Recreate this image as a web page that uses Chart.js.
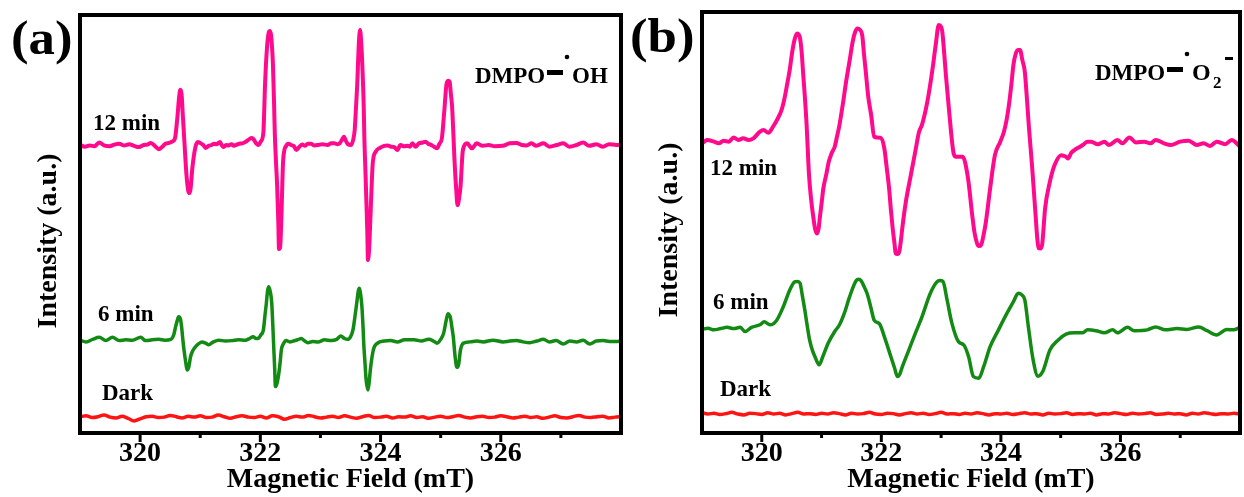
<!DOCTYPE html>
<html>
<head>
<meta charset="utf-8">
<script src="https://cdn.jsdelivr.net/npm/chart.js@4.4.1/dist/chart.umd.min.js"></script>
<style>
  body { margin: 0; background: #fff; width: 1244px; height: 497px; overflow: hidden; position: relative; }
  canvas { position: absolute; top: 0; }
  #graphA { left: 0; }
  #graphB { left: 632px; }
</style>
</head>
<body>
<canvas id="graphA" width="632" height="497"></canvas>
<canvas id="graphB" width="612" height="497"></canvas>
<script>
// ---- data (field in mT, intensity in a.u., traces stacked) ----
const traceLabels = ["12 min", "6 min", "Dark"];
const tickLabels = [320, 322, 324, 326];
const minorTicks = [321, 323, 325, 327];

// (a) DMPO-OH, 12 min
const fieldA12 = [
  319.00, 319.08, 319.16, 319.24, 319.32, 319.40, 319.49, 319.57, 319.65, 319.73,
  319.82, 319.90, 319.98, 320.06, 320.12, 320.18, 320.25, 320.31, 320.37, 320.42,
  320.48, 320.53, 320.58, 320.62, 320.65, 320.67, 320.69, 320.71, 320.74, 320.77,
  320.80, 320.82, 320.84, 320.87, 320.92, 320.96, 321.00, 321.05, 321.09, 321.14,
  321.19, 321.23, 321.27, 321.33, 321.36, 321.39, 321.43, 321.47, 321.52, 321.56,
  321.61, 321.65, 321.70, 321.75, 321.80, 321.85, 321.88, 321.93, 321.97, 322.01,
  322.05, 322.08, 322.11, 322.14, 322.16, 322.18, 322.21, 322.23, 322.24, 322.26,
  322.28, 322.30, 322.31, 322.33, 322.35, 322.38, 322.43, 322.47, 322.51, 322.56,
  322.60, 322.65, 322.70, 322.74, 322.79, 322.84, 322.90, 322.96, 323.03, 323.12,
  323.18, 323.23, 323.28, 323.32, 323.36, 323.39, 323.42, 323.45, 323.51, 323.55,
  323.57, 323.59, 323.61, 323.64, 323.66, 323.68, 323.70, 323.72, 323.73, 323.75,
  323.76, 323.78, 323.79, 323.81, 323.83, 323.85, 323.87, 323.92, 323.99, 324.06,
  324.12, 324.17, 324.23, 324.28, 324.33, 324.39, 324.45, 324.49, 324.53, 324.58,
  324.64, 324.70, 324.75, 324.79, 324.83, 324.89, 324.94, 324.98, 325.02, 325.06,
  325.10, 325.13, 325.15, 325.17, 325.19, 325.21, 325.23, 325.26, 325.28, 325.31,
  325.33, 325.37, 325.44, 325.52, 325.60, 325.70, 325.80, 325.90, 326.03, 326.15,
  326.26, 326.35, 326.43, 326.51, 326.59, 326.71, 326.81, 326.93, 327.04, 327.14,
  327.26, 327.37, 327.47, 327.59, 327.70, 327.80, 327.92, 328.00
];
const intA12 = [
  68.9, 68.5, 68.8, 68.6, 69.5, 68.8, 68.6, 69.0, 69.2, 68.8,
  69.1, 68.7, 68.4, 68.9, 69.0, 69.4, 68.6, 67.9, 68.5, 69.2,
  69.4, 69.7, 70.5, 75.5, 80.5, 82.1, 81.0, 76.1, 68.9, 62.0,
  58.0, 57.4, 58.5, 63.5, 68.4, 69.6, 69.4, 68.9, 68.2, 68.7,
  68.9, 69.2, 69.1, 69.6, 68.8, 68.4, 68.9, 68.8, 69.1, 68.7,
  69.0, 69.2, 69.3, 69.6, 70.1, 70.6, 70.4, 69.3, 68.9, 69.8,
  71.8, 84.0, 92.0, 95.8, 96.2, 95.0, 88.0, 78.0, 72.0, 65.0,
  59.0, 50.0, 44.0, 44.5, 51.5, 65.3, 68.7, 69.2, 68.9, 68.6,
  67.7, 68.5, 69.0, 68.7, 69.2, 69.2, 68.8, 68.9, 69.1, 68.9,
  69.3, 69.3, 69.1, 69.3, 70.2, 70.9, 70.0, 69.2, 68.9, 70.5,
  72.5, 77.5, 82.8, 93.5, 96.4, 93.0, 86.8, 78.0, 70.9, 62.0,
  57.3, 48.0, 41.4, 44.0, 51.0, 58.5, 64.5, 67.3, 68.2, 68.7,
  68.8, 68.5, 68.4, 67.7, 68.9, 68.6, 68.7, 68.5, 69.3, 68.5,
  69.3, 69.5, 69.7, 69.2, 69.0, 68.5, 68.1, 69.2, 70.5, 77.0,
  83.7, 84.3, 84.0, 81.0, 78.1, 72.0, 65.3, 58.0, 54.5, 56.5,
  58.9, 67.7, 69.3, 68.1, 69.3, 68.7, 68.9, 68.6, 68.7, 69.3,
  69.4, 68.9, 68.8, 69.3, 68.7, 69.3, 68.5, 68.9, 69.3, 68.5,
  68.9, 69.5, 68.7, 69.1, 68.5, 69.1, 68.9, 69.0
];

// (a) DMPO-OH, 6 min
const fieldA6 = [
  319.00, 319.10, 319.21, 319.32, 319.43, 319.54, 319.65, 319.76, 319.87, 320.01,
  320.09, 320.20, 320.31, 320.41, 320.51, 320.56, 320.59, 320.62, 320.64, 320.67,
  320.69, 320.71, 320.73, 320.76, 320.78, 320.81, 320.84, 320.88, 320.92, 320.97,
  321.03, 321.09, 321.14, 321.22, 321.31, 321.42, 321.53, 321.64, 321.75, 321.82,
  321.88, 321.93, 321.97, 322.01, 322.05, 322.08, 322.10, 322.12, 322.14, 322.17,
  322.19, 322.21, 322.22, 322.24, 322.25, 322.27, 322.30, 322.33, 322.35, 322.39,
  322.43, 322.49, 322.55, 322.62, 322.68, 322.74, 322.79, 322.87, 322.96, 323.07,
  323.18, 323.27, 323.34, 323.40, 323.45, 323.50, 323.54, 323.58, 323.61, 323.63,
  323.65, 323.67, 323.69, 323.71, 323.72, 323.74, 323.76, 323.79, 323.81, 323.83,
  323.88, 323.95, 324.06, 324.17, 324.28, 324.40, 324.56, 324.68, 324.80, 324.88,
  324.94, 325.00, 325.05, 325.09, 325.12, 325.14, 325.16, 325.19, 325.21, 325.24,
  325.27, 325.30, 325.33, 325.38, 325.49, 325.60, 325.71, 325.87, 326.04, 326.15,
  326.26, 326.37, 326.48, 326.60, 326.71, 326.81, 326.92, 327.04, 327.15, 327.26,
  327.37, 327.48, 327.59, 327.70, 327.81, 327.92, 328.00
];
const intA6 = [
  22.2, 21.8, 22.4, 22.9, 22.1, 22.9, 22.1, 22.3, 22.2, 22.9,
  22.1, 22.3, 22.4, 22.2, 22.4, 23.5, 25.4, 27.0, 27.8, 27.3,
  25.4, 22.5, 19.9, 16.8, 15.1, 15.8, 18.3, 19.8, 20.6, 21.3,
  21.8, 21.5, 21.1, 21.8, 22.2, 22.0, 22.1, 22.3, 22.2, 22.6,
  23.0, 22.6, 22.7, 23.5, 24.6, 28.5, 31.0, 34.0, 35.0, 33.5,
  31.0, 25.0, 21.5, 15.0, 11.1, 11.5, 13.5, 17.0, 19.9, 21.5,
  22.1, 21.8, 22.0, 22.3, 22.6, 22.0, 21.6, 21.9, 21.8, 22.3,
  22.1, 22.4, 23.2, 22.6, 22.4, 23.0, 24.6, 28.5, 31.8, 34.0,
  34.6, 33.0, 30.2, 25.0, 21.5, 17.0, 12.7, 10.3, 12.0, 15.1,
  19.9, 21.5, 22.0, 22.1, 21.8, 22.3, 22.3, 22.0, 22.4, 22.0,
  21.5, 22.4, 23.9, 26.8, 28.5, 28.3, 27.8, 25.0, 23.0, 18.3,
  15.7, 16.5, 19.9, 21.5, 21.8, 22.0, 21.8, 22.2, 21.8, 22.0,
  22.1, 21.8, 21.6, 22.0, 22.4, 21.8, 22.1, 21.3, 22.0, 21.8,
  22.2, 21.3, 22.0, 22.1, 21.9, 21.9, 22.0
];

// dark traces (both panels share the field grid)
const fieldDark = [
  319.0, 319.1, 319.2, 319.3, 319.4, 319.5, 319.6, 319.7, 319.8, 319.9,
  320.0, 320.1, 320.2, 320.3, 320.4, 320.5, 320.6, 320.7, 320.8, 320.9,
  321.0, 321.1, 321.2, 321.3, 321.4, 321.5, 321.6, 321.7, 321.8, 321.9,
  322.0, 322.1, 322.2, 322.3, 322.4, 322.5, 322.6, 322.7, 322.8, 322.9,
  323.0, 323.1, 323.2, 323.3, 323.4, 323.5, 323.6, 323.7, 323.8, 323.9,
  324.0, 324.1, 324.2, 324.3, 324.4, 324.5, 324.6, 324.7, 324.8, 324.9,
  325.0, 325.1, 325.2, 325.3, 325.4, 325.5, 325.6, 325.7, 325.8, 325.9,
  326.0, 326.1, 326.2, 326.3, 326.4, 326.5, 326.6, 326.7, 326.8, 326.9,
  327.0, 327.1, 327.2, 327.3, 327.4, 327.5, 327.6, 327.7, 327.8, 327.9,
  328.0
];
const intADark = [
  3.9, 4.1, 3.7, 3.9, 4.3, 3.8, 3.6, 4.0, 3.5, 2.9,
  3.4, 3.9, 4.0, 3.7, 3.8, 4.2, 3.9, 3.6, 4.0, 3.8,
  4.1, 3.7, 3.8, 4.3, 3.9, 3.5, 3.9, 4.1, 3.8, 3.7,
  4.0, 3.6, 4.1, 3.9, 3.3, 3.7, 4.0, 3.8, 4.2, 3.9,
  3.6, 3.8, 4.0, 3.7, 4.1, 3.8, 3.5, 3.9, 4.2, 3.7,
  3.8, 4.0, 3.6, 3.9, 3.8, 4.1, 3.7, 3.9, 3.5, 3.8,
  4.0, 3.7, 3.9, 4.2, 3.8, 3.6, 3.9, 4.0, 3.7, 3.8,
  4.1, 3.9, 3.6, 3.8, 4.0, 3.7, 3.9, 3.5, 3.8, 4.1,
  3.7, 3.6, 3.9, 4.2, 3.8, 3.7, 3.9, 4.0, 3.6, 3.8,
  3.9
];
const intBDark = [
  4.8, 4.5, 4.7, 4.4, 4.6, 4.9, 4.5, 4.3, 4.7, 4.6,
  4.4, 4.8, 4.5, 4.7, 4.3, 4.6, 4.9, 4.5, 4.6, 4.4,
  4.7, 4.5, 4.8, 4.6, 4.3, 4.7, 4.5, 4.6, 4.9, 4.5,
  4.4, 4.7, 4.6, 4.3, 4.6, 4.8, 4.5, 4.7, 4.4, 4.6,
  4.9, 4.5, 4.6, 4.4, 4.7, 4.5, 4.8, 4.6, 4.3, 4.6,
  4.5, 4.7, 4.4, 4.6, 4.8, 4.5, 4.6, 4.3, 4.7, 4.5,
  4.6, 4.8, 4.4, 4.6, 4.5, 4.7, 4.3, 4.6, 4.5, 4.8,
  4.6, 4.4, 4.7, 4.5, 4.6, 4.8, 4.4, 4.5, 4.7, 4.5,
  4.6, 4.3, 4.7, 4.5, 4.8, 4.6, 4.4, 4.6, 4.5, 4.7,
  4.5
];

// (b) DMPO-O2-, 12 min
const fieldB12 = [
  319.00, 319.09, 319.20, 319.28, 319.36, 319.45, 319.53, 319.61, 319.69, 319.78,
  319.86, 319.97, 320.03, 320.11, 320.19, 320.26, 320.33, 320.38, 320.42, 320.47,
  320.51, 320.55, 320.59, 320.62, 320.64, 320.67, 320.69, 320.72, 320.75, 320.79,
  320.83, 320.86, 320.89, 320.92, 320.95, 320.97, 321.00, 321.03, 321.08, 321.12,
  321.17, 321.22, 321.26, 321.30, 321.36, 321.41, 321.47, 321.52, 321.56, 321.60,
  321.64, 321.68, 321.71, 321.74, 321.78, 321.83, 321.88, 321.93, 321.99, 322.05,
  322.09, 322.13, 322.16, 322.19, 322.22, 322.24, 322.27, 322.30, 322.33, 322.35,
  322.41, 322.49, 322.57, 322.63, 322.68, 322.77, 322.85, 322.91, 322.96, 323.00,
  323.02, 323.05, 323.08, 323.14, 323.21, 323.25, 323.29, 323.36, 323.45, 323.52,
  323.56, 323.60, 323.63, 323.67, 323.71, 323.75, 323.82, 323.90, 323.99, 324.05,
  324.10, 324.14, 324.18, 324.21, 324.25, 324.29, 324.32, 324.36, 324.40, 324.44,
  324.47, 324.52, 324.58, 324.61, 324.63, 324.66, 324.69, 324.74, 324.82, 324.90,
  325.01, 325.06, 325.09, 325.12, 325.18, 325.23, 325.30, 325.37, 325.45, 325.51,
  325.62, 325.73, 325.81, 325.95, 326.03, 326.15, 326.26, 326.40, 326.50, 326.59,
  326.73, 326.84, 327.00, 327.14, 327.28, 327.39, 327.50, 327.61, 327.75, 327.86,
  328.00
];
const intB12 = [
  68.8, 69.6, 69.2, 68.8, 69.4, 69.2, 70.2, 69.6, 70.0, 69.6,
  70.0, 71.6, 72.0, 71.3, 72.8, 74.5, 76.7, 79.5, 82.5, 86.5,
  90.6, 93.5, 94.9, 94.6, 93.8, 90.0, 85.8, 80.0, 73.2, 61.3,
  54.9, 51.5, 48.6, 47.4, 48.5, 51.0, 54.5, 58.1, 61.5, 64.4,
  66.5, 68.0, 70.5, 73.2, 78.5, 83.4, 88.5, 92.9, 95.2, 96.1,
  95.8, 94.5, 90.0, 85.8, 80.0, 75.5, 70.4, 70.2, 70.1, 67.6,
  63.0, 58.1, 53.0, 48.6, 45.0, 42.7, 42.5, 43.1, 46.0, 48.6,
  54.9, 61.0, 67.0, 71.5, 73.2, 78.7, 85.8, 92.2, 96.9, 96.5,
  95.3, 90.5, 85.0, 75.5, 66.4, 65.6, 65.6, 65.6, 60.5, 51.8,
  47.5, 45.1, 44.4, 44.7, 47.0, 50.2, 58.1, 66.0, 69.2, 71.5,
  74.7, 78.5, 83.4, 87.5, 90.2, 91.0, 91.0, 88.5, 85.8, 78.5,
  72.4, 63.7, 51.8, 46.0, 43.9, 43.8, 44.7, 53.4, 59.7, 63.7,
  66.0, 65.8, 65.6, 65.2, 66.6, 67.2, 67.8, 68.4, 69.2, 69.2,
  68.6, 69.2, 68.4, 69.6, 68.8, 70.2, 69.0, 69.2, 68.8, 69.6,
  68.8, 68.4, 69.2, 69.4, 68.4, 68.8, 68.2, 69.2, 68.6, 69.6,
  68.0
];

// (b) DMPO-O2-, 6 min
const fieldB6 = [
  319.00, 319.10, 319.20, 319.31, 319.42, 319.53, 319.64, 319.72, 319.83, 319.97,
  320.04, 320.14, 320.25, 320.36, 320.47, 320.55, 320.60, 320.64, 320.68, 320.72,
  320.76, 320.80, 320.85, 320.89, 320.96, 321.02, 321.11, 321.22, 321.30, 321.38,
  321.47, 321.58, 321.62, 321.66, 321.72, 321.77, 321.83, 321.88, 321.97, 322.05,
  322.16, 322.22, 322.27, 322.31, 322.35, 322.46, 322.57, 322.68, 322.82, 322.93,
  322.98, 323.03, 323.10, 323.18, 323.29, 323.38, 323.46, 323.54, 323.63, 323.71,
  323.82, 323.96, 324.10, 324.21, 324.29, 324.35, 324.40, 324.46, 324.54, 324.62,
  324.70, 324.82, 324.96, 325.09, 325.23, 325.37, 325.45, 325.59, 325.73, 325.87,
  325.95, 326.12, 326.23, 326.45, 326.59, 326.75, 326.95, 327.11, 327.31, 327.45,
  327.61, 327.78, 327.89, 328.00
];
const intB6 = [
  24.6, 24.9, 24.5, 24.8, 25.1, 24.8, 25.1, 24.1, 25.1, 25.7,
  26.4, 25.7, 26.8, 30.0, 34.0, 35.9, 36.0, 35.6, 32.5, 29.2,
  25.5, 22.1, 19.5, 18.1, 16.2, 18.1, 21.3, 24.1, 25.7, 28.4,
  32.4, 36.2, 36.5, 36.2, 34.5, 32.8, 29.5, 26.8, 25.9, 22.9,
  18.1, 15.5, 13.4, 14.0, 15.7, 19.7, 23.7, 27.6, 33.2, 35.9,
  36.2, 36.0, 31.6, 26.1, 21.7, 20.9, 18.1, 13.4, 13.0, 15.7,
  20.5, 24.5, 28.4, 31.2, 33.2, 32.8, 31.6, 25.2, 17.3, 13.5,
  14.6, 19.7, 22.1, 23.5, 23.8, 23.8, 24.5, 24.3, 23.8, 24.5,
  23.8, 25.1, 24.3, 24.5, 25.2, 24.5, 24.8, 24.6, 25.2, 24.3,
  23.3, 24.6, 24.5, 25.1
];

const pink = "#ff0a8c";
const green = "#138a13";
const red = "#ff1414";
const serif = '"Liberation Serif", "Times New Roman", serif';

function toXY(xs, ys) {
  return xs.map(function (x, i) { return { x: x, y: ys[i] }; });
}

function trace(label, xs, ys, color, width) {
  return {
    label: label,
    data: toXY(xs, ys),
    borderColor: color,
    borderWidth: width,
    pointRadius: 0,
    fill: false,
    cubicInterpolationMode: "monotone"
  };
}

// bold serif text; sx widens it a little like the source figure
function txt(ctx, str, x, y, size, sx) {
  ctx.save();
  ctx.font = "bold " + size + "px " + serif;
  ctx.fillStyle = "#000";
  ctx.textAlign = "left";
  ctx.textBaseline = "alphabetic";
  ctx.translate(x, y);
  ctx.scale(sx || 1, 1);
  ctx.fillText(str, 0, 0);
  ctx.restore();
}

function decor(cfg) {
  return {
    id: "decor",
    afterDraw: function (chart) {
      const ctx = chart.ctx;
      const a = chart.chartArea;
      const xs = chart.scales.x;

      // frame
      ctx.save();
      ctx.strokeStyle = "#000";
      ctx.lineWidth = 4;
      ctx.strokeRect(a.left, a.top, a.right - a.left, a.bottom - a.top);

      // outward ticks
      ctx.lineWidth = 3;
      tickLabels.forEach(function (v) {
        const px = xs.getPixelForValue(v);
        ctx.beginPath(); ctx.moveTo(px, a.bottom); ctx.lineTo(px, a.bottom + 9); ctx.stroke();
      });
      minorTicks.forEach(function (v) {
        const px = xs.getPixelForValue(v);
        ctx.beginPath(); ctx.moveTo(px, a.bottom); ctx.lineTo(px, a.bottom + 5); ctx.stroke();
      });
      ctx.restore();

      // y title
      ctx.save();
      ctx.font = "bold 28px " + serif;
      ctx.fillStyle = "#000";
      ctx.textAlign = "center";
      ctx.textBaseline = "middle";
      ctx.translate(cfg.yTitle[0], cfg.yTitle[1]);
      ctx.rotate(-Math.PI / 2);
      ctx.fillText("Intensity (a.u.)", 0, 0);
      ctx.restore();

      // panel letter
      txt(ctx, cfg.letter, cfg.letterPos[0], cfg.letterPos[1], 48, 1.1);

      // trace labels
      cfg.labelPos.forEach(function (p, i) {
        txt(ctx, traceLabels[i], p[0], p[1], 23);
      });

      // spin adduct label
      const s = cfg.species;
      txt(ctx, "DMPO", s[0], s[1], 23);
      ctx.save();
      ctx.fillStyle = "#000";
      ctx.fillRect(s[0] + 72, s[1] - 13, 16, 5);
      ctx.beginPath();
      ctx.arc(s[0] + 92, s[1] - 26, 2.3, 0, Math.PI * 2);
      ctx.fill();
      ctx.restore();
      if (cfg.radical === "OH") {
        txt(ctx, "OH", s[0] + 97, s[1], 23);
      } else {
        txt(ctx, "O", s[0] + 97, s[1], 24);
        txt(ctx, "2", s[0] + 118, s[1] + 8, 17);
        ctx.save();
        ctx.fillStyle = "#000";
        ctx.fillRect(s[0] + 130, s[1] - 23, 8, 3);
        ctx.restore();
      }
    }
  };
}

function options(padding, yWidth) {
  return {
    responsive: false,
    animation: false,
    layout: { padding: padding },
    plugins: { legend: { display: false }, tooltip: { enabled: false } },
    scales: {
      x: {
        type: "linear",
        min: 319,
        max: 328,
        ticks: {
          stepSize: 1,
          autoSkip: false,
          maxRotation: 0,
          padding: 4,
          color: "#000",
          font: { family: serif, size: 28, weight: "bold" },
          callback: function (v) {
            const r = Math.round(v);
            return tickLabels.includes(r) ? String(r) : "";
          }
        },
        grid: { display: false, drawTicks: false },
        border: { display: false },
        title: {
          display: true,
          text: "Magnetic Field (mT)",
          color: "#000",
          font: { family: serif, size: 28, weight: "bold" },
          padding: { top: 0, bottom: 0 }
        },
        afterFit: function (s) { s.height = 64; }
      },
      y: {
        min: 0,
        max: 100,
        ticks: { display: false },
        grid: { display: false },
        border: { display: false },
        afterFit: function (s) { s.width = yWidth; }
      }
    }
  };
}

new Chart(document.getElementById("graphA"), {
  type: "line",
  data: {
    datasets: [
      trace(traceLabels[0], fieldA12, intA12, pink, 4),
      trace(traceLabels[1], fieldA6, intA6, green, 3.5),
      trace(traceLabels[2], fieldDark, intADark, red, 3.5)
    ]
  },
  options: options({ left: 0, top: 15, right: 11, bottom: 0 }, 80),
  plugins: [decor({
    letter: "(a)", letterPos: [11, 54],
    yTitle: [49, 241],
    labelPos: [[93, 130], [98, 321], [102, 400]],
    species: [475, 83], radical: "OH"
  })]
});

new Chart(document.getElementById("graphB"), {
  type: "line",
  data: {
    datasets: [
      trace(traceLabels[0], fieldB12, intB12, pink, 4),
      trace(traceLabels[1], fieldB6, intB6, green, 3.5),
      trace(traceLabels[2], fieldDark, intBDark, red, 3.5)
    ]
  },
  options: options({ left: 0, top: 12, right: 1, bottom: 0 }, 70),
  plugins: [decor({
    letter: "(b)", letterPos: [-2, 52],
    yTitle: [38, 230],
    labelPos: [[78, 175], [81, 309], [88, 396]],
    species: [463, 80], radical: "O2"
  })]
});
</script>
</body>
</html>
